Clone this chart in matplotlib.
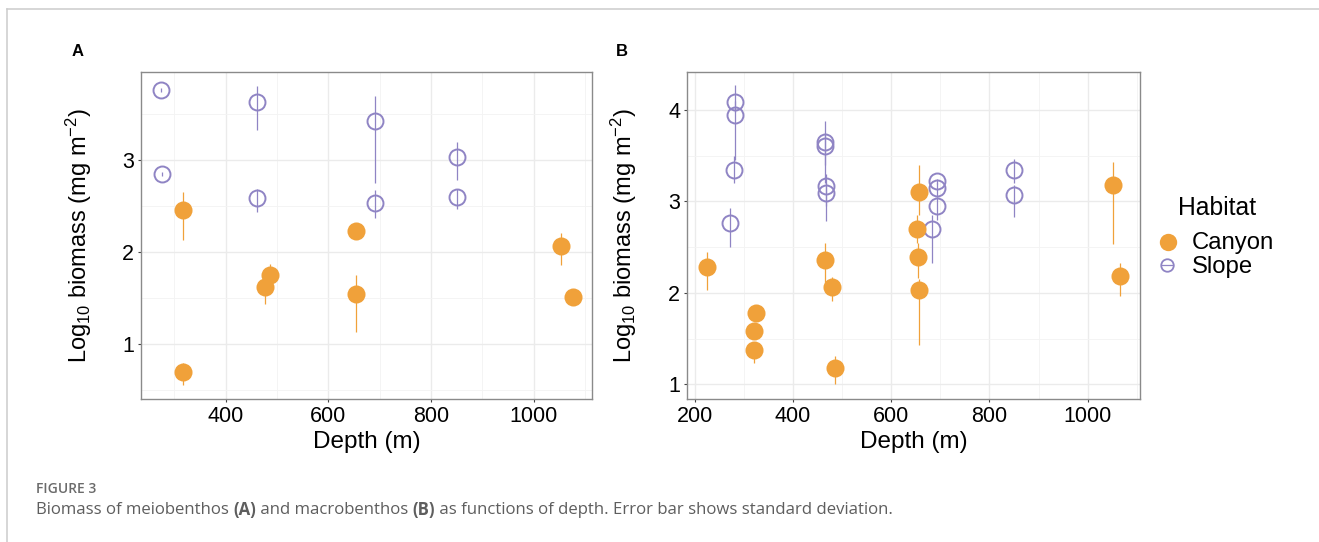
import matplotlib
matplotlib.use("Agg")
import matplotlib.pyplot as plt
from matplotlib.lines import Line2D
import numpy as np

# ---------------- data ----------------
# Panel A (meiobenthos)
a_slope_depth = [274, 276, 461, 461, 690, 690, 850, 850]
a_slope_mean = [3.77, 2.85, 3.64, 2.59, 3.43, 2.53, 3.04, 2.60]
a_slope_low = [3.75, 2.83, 3.33, 2.44, 2.75, 2.37, 2.79, 2.47]
a_slope_high = [3.79, 2.87, 3.81, 2.69, 3.70, 2.68, 3.20, 2.69]

a_canyon_depth = [316, 316, 477, 485.5, 654.5, 654.5, 1054, 1076]
a_canyon_mean = [2.46, 0.69, 1.62, 1.75, 2.23, 1.54, 2.07, 1.51]
a_canyon_low = [2.13, 0.55, 1.43, 1.68, 2.21, 1.13, 1.86, 1.49]
a_canyon_high = [2.65, 0.79, 1.70, 1.87, 2.25, 1.75, 2.21, 1.53]

# Panel B (macrobenthos)
b_slope_depth = [281.8, 281.8, 280.4, 272.7, 465.3, 465.3, 468, 468, 693, 693, 693, 683.2, 849.7, 849.7]
b_slope_mean = [4.09, 3.95, 3.35, 2.76, 3.65, 3.61, 3.17, 3.09, 3.22, 3.15, 2.95, 2.70, 3.34, 3.07]
b_slope_low = [3.98, 3.45, 3.20, 2.50, 3.20, 3.40, 2.95, 2.79, 3.19, 3.05, 2.80, 2.33, 3.20, 2.83]
b_slope_high = [4.27, 4.10, 3.50, 2.93, 3.88, 3.75, 3.30, 3.20, 3.25, 3.20, 3.05, 2.85, 3.46, 3.18]

b_canyon_depth = [224.7, 325.6, 321.3, 321.3, 465.3, 480.1, 485.7, 656.4, 652.2, 653.6, 656.4, 1050.8, 1064.9]
b_canyon_mean = [2.28, 1.78, 1.58, 1.38, 2.36, 2.06, 1.18, 3.10, 2.70, 2.39, 2.03, 3.18, 2.19]
b_canyon_low = [2.03, 1.74, 1.54, 1.23, 2.12, 1.91, 1.00, 2.85, 2.55, 2.16, 1.43, 2.53, 1.97]
b_canyon_high = [2.45, 1.82, 1.62, 1.45, 2.55, 2.17, 1.31, 3.40, 2.85, 2.55, 2.15, 3.43, 2.33]

habitats = ["Canyon", "Slope"]
panel_labels = ["A", "B"]
xlabel = "Depth (m)"
ylabel = r"Log$_{10}$ biomass (mg m$^{-2}$)"
caption_title = "FIGURE 3"
caption_parts = [("Biomass of meiobenthos ", "normal"), ("(A)", "bold"),
                 (" and macrobenthos ", "normal"), ("(B)", "bold"),
                 (" as functions of depth. Error bar shows standard deviation.", "normal")]

# ---------------- style ----------------
W, H = 1319, 542
plt.rcParams["font.family"] = ["Liberation Sans", "DejaVu Sans"]
plt.rcParams["mathtext.fontset"] = "custom"
plt.rcParams["mathtext.rm"] = "Liberation Sans"
plt.rcParams["mathtext.it"] = "Liberation Sans:italic"
plt.rcParams["mathtext.bf"] = "Liberation Sans:bold"

C_CANYON = "#F0A13A"
C_SLOPE = "#8F84C4"

fig = plt.figure(figsize=(W / 100, H / 100), dpi=100)


def fx(px):
    return px / W


def fy(py):
    return 1 - py / H


def make_axes(l, r, t, b):
    return fig.add_axes([fx(l), fy(b), fx(r) - fx(l), (b - t) / H])


def style_axes(ax, xlim, ylim, xmajor, xminor, ymajor, yminor):
    ax.set_xlim(*xlim)
    ax.set_ylim(*ylim)
    ax.set_xticks(xmajor)
    ax.set_xticks(xminor, minor=True)
    ax.set_yticks(ymajor)
    ax.set_yticks(yminor, minor=True)
    ax.grid(True, which="major", color="#EBEBEB", linewidth=1.0, zorder=0)
    ax.grid(True, which="minor", color="#F3F3F3", linewidth=0.6, zorder=0)
    ax.set_axisbelow(True)
    for s in ax.spines.values():
        s.set_color("#8A8A8A")
        s.set_linewidth(1.0)
    ax.tick_params(which="major", length=2.3, width=0.8, color="#444444",
                   pad=2.5, labelsize=15.5, labelcolor="black")
    ax.tick_params(which="minor", length=0)


def draw(ax, cd, cm, cl, ch, sd, sm, sl, sh):
    ax.vlines(cd, cl, ch, color=C_CANYON, linewidth=0.9, zorder=2)
    ax.vlines(sd, sl, sh, color=C_SLOPE, linewidth=0.9, zorder=2)
    ax.plot(sd, sm, linestyle="none", marker="o", markersize=11.5,
            markerfacecolor="none", markeredgecolor=C_SLOPE, markeredgewidth=1.4, zorder=3)
    ax.plot(cd, cm, linestyle="none", marker="o", markersize=13,
            markerfacecolor=C_CANYON, markeredgecolor="none", zorder=3)


axA = make_axes(141, 591.7, 71.7, 399.3)
style_axes(axA, (235, 1113), (0.394, 3.966), [400, 600, 800, 1000],
           [300, 500, 700, 900, 1100], [1, 2, 3], [0.5, 1.5, 2.5, 3.5])
draw(axA, a_canyon_depth, a_canyon_mean, a_canyon_low, a_canyon_high,
     a_slope_depth, a_slope_mean, a_slope_low, a_slope_high)

axB = make_axes(686.7, 1140.3, 71.7, 399.3)
style_axes(axB, (183.8, 1107), (0.836, 4.42), [200, 400, 600, 800, 1000],
           [300, 500, 700, 900, 1100], [1, 2, 3, 4], [1.5, 2.5, 3.5])
draw(axB, b_canyon_depth, b_canyon_mean, b_canyon_low, b_canyon_high,
     b_slope_depth, b_slope_mean, b_slope_low, b_slope_high)

# axis labels
for xc, ylx in [((141 + 591.7) / 2, 79), ((686.7 + 1140.3) / 2, 624)]:
    fig.text(fx(xc), fy(442), xlabel, ha="center", va="center", fontsize=17.5)
    fig.text(fx(ylx), fy(235.5), ylabel, ha="center", va="center",
             rotation=90, fontsize=17)

# panel letters
fig.text(fx(78), fy(52), panel_labels[0], ha="center", va="center",
         fontsize=12, fontweight="bold")
fig.text(fx(621.5), fy(52), panel_labels[1], ha="center", va="center",
         fontsize=12, fontweight="bold")

# legend (manual)
fig.text(fx(1178), fy(208), "Habitat", ha="left", va="center", fontsize=17.8)
fig.add_artist(Line2D([fx(1168)], [fy(242)], transform=fig.transFigure,
                      marker="o", markersize=12.5, markerfacecolor=C_CANYON,
                      markeredgecolor="none", linestyle="none"))
fig.add_artist(Line2D([fx(1161.5), fx(1172.5)], [fy(265), fy(265)], transform=fig.transFigure,
                      color=C_SLOPE, linewidth=0.9))
fig.add_artist(Line2D([fx(1167)], [fy(265)], transform=fig.transFigure,
                      marker="o", markersize=9, markerfacecolor="none",
                      markeredgecolor=C_SLOPE, markeredgewidth=1.3, linestyle="none"))
fig.text(fx(1192), fy(243), habitats[0], ha="left", va="center", fontsize=17.2)
fig.text(fx(1192), fy(267), habitats[1], ha="left", va="center", fontsize=17.2)

# page frame lines
fig.add_artist(Line2D([fx(6.5), fx(W)], [fy(9), fy(9)], transform=fig.transFigure,
                      color="#CCCCCC", linewidth=1.1))
fig.add_artist(Line2D([fx(6.5), fx(6.5)], [fy(9), fy(H)], transform=fig.transFigure,
                      color="#CCCCCC", linewidth=1.1))

# caption
fig.text(fx(36), fy(489), caption_title, ha="left", va="center", fontsize=10,
         family=["Open Sans", "DejaVu Sans"], fontweight="semibold", color="#6B6B6B")
renderer = fig.canvas.get_renderer()
x0 = 36
for txt, wt in caption_parts:
    t = fig.text(fx(x0), fy(510), txt, ha="left", va="center", fontsize=12.1,
                 family=["Open Sans", "DejaVu Sans"], fontweight=wt, color="#5E5E5E")
    bb = t.get_window_extent(renderer=renderer)
    x0 += bb.width

fig.savefig("out.png", dpi=100)
